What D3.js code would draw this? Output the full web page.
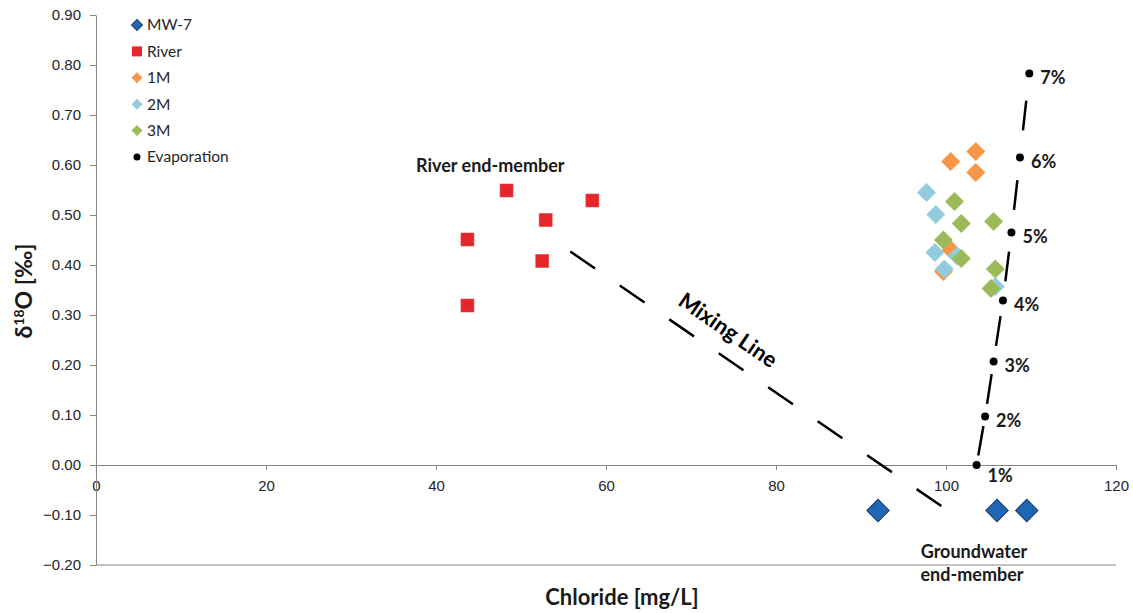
<!DOCTYPE html>
<html>
<head>
<meta charset="utf-8">
<script src="https://cdn.jsdelivr.net/npm/d3@7"></script>
<style>
	body { margin: 0; background: #fff; }
	svg { font-family: Lato, "Liberation Sans", sans-serif; }
	.axis path, .axis line { stroke: #868686; }
	.axis text { fill: #262626; font-size: 15px; }
</style>
</head>
<body>
<div id="chart"></div>
<script>
//Data: [chloride mg/L, d18O permil]
var xTicks = [0, 20, 40, 60, 80, 100, 120];
var yTicks = [-0.2, -0.1, 0, 0.1, 0.2, 0.3, 0.4, 0.5, 0.6, 0.7, 0.8, 0.9];
var mw7 = [[92.0, -0.091], [106.0, -0.091], [109.5, -0.091]];
var river = [[48.3, 0.549], [58.4, 0.529], [52.9, 0.49], [43.7, 0.451], [52.5, 0.408], [43.7, 0.319]];
var m1 = [[103.5, 0.627], [100.55, 0.607], [103.5, 0.585], [100.6, 0.43], [99.7, 0.387]];
var m2 = [[97.7, 0.545], [98.8, 0.501], [98.7, 0.425], [101.3, 0.418], [99.8, 0.392], [105.8, 0.357]];
var m3 = [[101.0, 0.527], [101.8, 0.483], [105.6, 0.487], [99.7, 0.45], [101.8, 0.413], [105.8, 0.392], [105.3, 0.353]];
var evap = [[103.6, 0.0], [104.6, 0.097], [105.6, 0.207], [106.7, 0.329], [107.7, 0.465], [108.7, 0.615], [109.8, 0.783]];
var evapLabels = ["1%", "2%", "3%", "4%", "5%", "6%", "7%"];
var mixingLine = [[55.8, 0.427], [99.7, -0.085]];
var legendNames = ["MW-7", "River", "1M", "2M", "3M", "Evaporation"];

var width = 1133, height = 613;

var svg = d3.select("#chart")
	.append("svg")
	.attr("width", width)
	.attr("height", height);

//Scales
var x = d3.scaleLinear().domain([0, 120]).range([96, 1116]);
var y = d3.scaleLinear().domain([-0.2, 0.9]).range([565, 15]);

//Bottom border of the plot area
svg.append("line")
	.attr("x1", x(0)).attr("x2", x(120))
	.attr("y1", y(-0.2)).attr("y2", y(-0.2))
	.attr("stroke", "#868686");

//x axis crosses at 0
var xAxis = svg.append("g")
	.attr("class", "x axis")
	.attr("transform", "translate(0," + y(0) + ")")
	.call(d3.axisBottom(x).tickValues(xTicks).tickSize(5).tickSizeOuter(0));
xAxis.selectAll("text").attr("dy", "1.2em");

//y axis
svg.append("g")
	.attr("class", "y axis")
	.attr("transform", "translate(" + x(0) + ",0)")
	.call(d3.axisLeft(y).tickValues(yTicks).tickSize(6).tickSizeOuter(0).tickFormat(d3.format(".2f")))
	.selectAll("text").attr("x", -15).attr("font-size", "16px");

//Axis titles
svg.append("text")
	.attr("x", 622).attr("y", 605)
	.attr("text-anchor", "middle")
	.attr("font-weight", "bold")
	.attr("font-size", "22px")
	.attr("fill", "#1a1a1a")
	.text("Chloride [mg/L]");

var yTitle = svg.append("text")
	.attr("transform", "translate(32,291) rotate(-90)")
	.attr("text-anchor", "middle")
	.attr("font-weight", "bold")
	.attr("font-size", "23px")
	.attr("fill", "#1a1a1a");
yTitle.append("tspan").text("δ");
yTitle.append("tspan").attr("font-size", "14px").attr("dy", "-0.55em").text("18");
yTitle.append("tspan").attr("dy", "0.35em").text("O [‰]");

//Mixing line
svg.append("path")
	.attr("d", d3.line().x(function(d) { return x(d[0]); }).y(function(d) { return y(d[1]); })(mixingLine))
	.attr("fill", "none")
	.attr("stroke", "#000")
	.attr("stroke-width", 2.5)
	.attr("stroke-dasharray", "30,30");

var mAngle = Math.atan2(y(mixingLine[1][1]) - y(mixingLine[0][1]), x(mixingLine[1][0]) - x(mixingLine[0][0])) * 180 / Math.PI;
svg.append("text")
	.attr("transform", "translate(728,330) rotate(" + mAngle + ")")
	.attr("text-anchor", "middle")
	.attr("dy", "0.35em")
	.attr("font-weight", "bold")
	.attr("font-size", "22px")
	.text("Mixing Line");

//Markers
var diamond = function(size) { return d3.symbol().type(d3.symbolSquare).size(size)(); };
var place = function(d) { return "translate(" + x(d[0]) + "," + y(d[1]) + ") rotate(45)"; };

svg.selectAll(".mw7").data(mw7).enter().append("path")
	.attr("class", "mw7")
	.attr("d", diamond(250))
	.attr("transform", place)
	.attr("fill", "#1f67b5")
	.attr("stroke", "#1b3a6b")
	.attr("stroke-width", 1);

svg.selectAll(".river").data(river).enter().append("rect")
	.attr("class", "river")
	.attr("x", function(d) { return x(d[0]) - 6.5; })
	.attr("y", function(d) { return y(d[1]) - 6.5; })
	.attr("width", 13).attr("height", 13)
	.attr("fill", "#e5262b")
	.attr("stroke", "#d94f4f")
	.attr("stroke-width", 0.6);

var groups = [[m1, "#f79646"], [m2, "#93cddd"], [m3, "#9bbb59"]];
groups.forEach(function(g, i) {
	svg.selectAll(".m" + i).data(g[0]).enter().append("path")
		.attr("class", "m" + i)
		.attr("d", diamond(180))
		.attr("transform", place)
		.attr("fill", g[1]);
});

//Evaporation line: one centred dash per segment
for (var i = 0; i < evap.length - 1; i++) {
	var x1 = x(evap[i][0]), y1 = y(evap[i][1]), x2 = x(evap[i + 1][0]), y2 = y(evap[i + 1][1]);
	var len = Math.sqrt((x2 - x1) * (x2 - x1) + (y2 - y1) * (y2 - y1));
	var gap = (len - 30) / 2;
	svg.append("line")
		.attr("x1", x1).attr("y1", y1).attr("x2", x2).attr("y2", y2)
		.attr("stroke", "#000")
		.attr("stroke-width", 2.5)
		.attr("stroke-dasharray", "0," + gap + ",30," + len);
}

svg.selectAll(".evap").data(evap).enter().append("circle")
	.attr("class", "evap")
	.attr("cx", function(d) { return x(d[0]); })
	.attr("cy", function(d) { return y(d[1]); })
	.attr("r", 4)
	.attr("fill", "#000");

svg.selectAll(".evapLabel").data(evap).enter().append("text")
	.attr("class", "evapLabel")
	.attr("x", function(d) { return x(d[0]) + 11; })
	.attr("y", function(d, i) { return y(d[1]) + (i === 0 ? 17 : 10); })
	.attr("font-weight", "bold")
	.attr("font-size", "18px")
	.attr("fill", "#1a1a1a")
	.text(function(d, i) { return evapLabels[i]; });

//Annotations
svg.append("text")
	.attr("x", 416).attr("y", 172)
	.attr("font-weight", "bold").attr("font-size", "18px").attr("fill", "#1a1a1a")
	.text("River end-member");

svg.append("text")
	.attr("x", 974).attr("y", 558)
	.attr("text-anchor", "middle")
	.attr("font-weight", "bold").attr("font-size", "18px").attr("fill", "#1a1a1a")
	.text("Groundwater");
svg.append("text")
	.attr("x", 972).attr("y", 581)
	.attr("text-anchor", "middle")
	.attr("font-weight", "bold").attr("font-size", "18px").attr("fill", "#1a1a1a")
	.text("end-member");

//Legend
var legend = svg.selectAll(".legend")
	.data(legendNames)
	.enter()
	.append("g")
	.attr("class", "legend")
	.attr("transform", function(d, i) { return "translate(137," + (25 + i * 26.4) + ")"; });

legend.each(function(d, i) {
	var g = d3.select(this);
	if (i === 0) {
		g.append("path").attr("d", diamond(60)).attr("transform", "rotate(45)")
			.attr("fill", "#1f67b5").attr("stroke", "#1b3a6b").attr("stroke-width", 1);
	} else if (i === 1) {
		g.append("rect").attr("x", -5).attr("y", -5).attr("width", 10).attr("height", 10).attr("fill", "#e5262b");
	} else if (i < 5) {
		g.append("path").attr("d", diamond(60)).attr("transform", "rotate(45)").attr("fill", groups[i - 2][1]);
	} else {
		g.append("circle").attr("r", 3.5).attr("fill", "#000");
	}
	g.append("text")
		.attr("x", 10)
		.attr("dy", "0.35em")
		.attr("font-size", "15.5px")
		.attr("fill", "#262626")
		.text(d);
});
</script>
</body>
</html>
